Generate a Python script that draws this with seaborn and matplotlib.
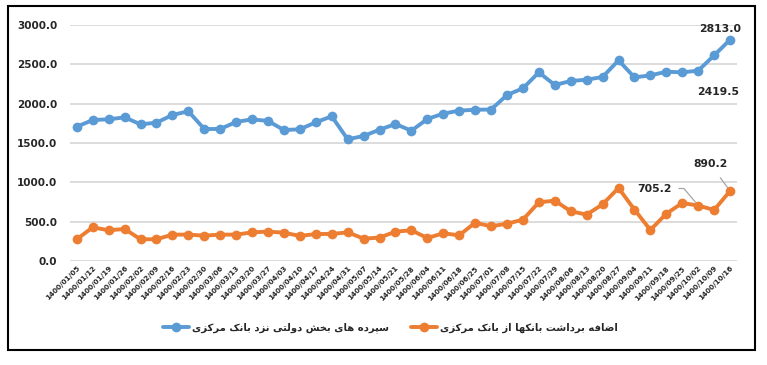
import matplotlib
matplotlib.use("Agg")
import matplotlib.pyplot as plt
import seaborn as sns
import pandas as pd
import numpy as np
from matplotlib.patches import Rectangle

dates = ["1400/01/05", "1400/01/12", "1400/01/19", "1400/01/26", "1400/02/02", "1400/02/09",
         "1400/02/16", "1400/02/23", "1400/02/30", "1400/03/06", "1400/03/13", "1400/03/20",
         "1400/03/27", "1400/04/03", "1400/04/10", "1400/04/17", "1400/04/24", "1400/04/31",
         "1400/05/07", "1400/05/14", "1400/05/21", "1400/05/28", "1400/06/04", "1400/06/11",
         "1400/06/18", "1400/06/25", "1400/07/01", "1400/07/08", "1400/07/15", "1400/07/22",
         "1400/07/29", "1400/08/06", "1400/08/13", "1400/08/20", "1400/08/27", "1400/09/04",
         "1400/09/11", "1400/09/18", "1400/09/25", "1400/10/02", "1400/10/09", "1400/10/16"]

gov_deposits = [1707, 1792, 1801, 1826, 1737, 1758, 1856, 1903, 1678, 1678, 1767, 1801,
                1780, 1665, 1674, 1763, 1839, 1547, 1589, 1669, 1741, 1656, 1805, 1873,
                1911, 1923, 1925, 2110, 2195, 2398, 2237, 2288, 2305, 2339, 2551, 2334,
                2360, 2406, 2398, 2419.5, 2614, 2813.0]

overdraft = [276, 428, 390, 407, 276, 276, 335, 335, 322, 335, 335, 364,
             373, 360, 318, 343, 343, 364, 284, 297, 373, 390, 292, 352,
             326, 487, 441, 474, 525, 746, 767, 632, 589, 721, 928, 652,
             394, 601, 737, 705.2, 648, 890.2]

name_gov = "سپرده های بخش دولتی نزد بانک مرکزی"
name_od = "اضافه برداشت بانکها از بانک مرکزی"

# --- minimal Arabic/Persian shaping (matplotlib has no complex text layout) ---
FORMS = {
    'ا': (0xFE8D, 0xFE8E, None, None), 'ب': (0xFE8F, 0xFE90, 0xFE91, 0xFE92),
    'پ': (0xFB56, 0xFB57, 0xFB58, 0xFB59), 'ت': (0xFE95, 0xFE96, 0xFE97, 0xFE98),
    'خ': (0xFEA5, 0xFEA6, 0xFEA7, 0xFEA8), 'د': (0xFEA9, 0xFEAA, None, None),
    'ر': (0xFEAD, 0xFEAE, None, None), 'ز': (0xFEAF, 0xFEB0, None, None),
    'س': (0xFEB1, 0xFEB2, 0xFEB3, 0xFEB4), 'ش': (0xFEB5, 0xFEB6, 0xFEB7, 0xFEB8),
    'ض': (0xFEBD, 0xFEBE, 0xFEBF, 0xFEC0), 'ف': (0xFED1, 0xFED2, 0xFED3, 0xFED4),
    'ک': (0xFB8E, 0xFB8F, 0xFB90, 0xFB91), 'ل': (0xFEDD, 0xFEDE, 0xFEDF, 0xFEE0),
    'م': (0xFEE1, 0xFEE2, 0xFEE3, 0xFEE4), 'ن': (0xFEE5, 0xFEE6, 0xFEE7, 0xFEE8),
    'ه': (0xFEE9, 0xFEEA, 0xFEEB, 0xFEEC), 'و': (0xFEED, 0xFEEE, None, None),
    'ی': (0xFBFC, 0xFBFD, 0xFBFE, 0xFBFF),
}


def shape(s):
    out = []
    for i, c in enumerate(s):
        if c not in FORMS:
            out.append(c)
            continue
        prev = s[i - 1] if i > 0 else None
        nxt = s[i + 1] if i + 1 < len(s) else None
        join_prev = prev in FORMS and FORMS[prev][2] is not None
        join_next = nxt in FORMS and FORMS[c][2] is not None
        iso, fin, ini, med = FORMS[c]
        if join_prev and join_next:
            cp = med
        elif join_prev:
            cp = fin
        elif join_next:
            cp = ini
        else:
            cp = iso
        out.append(chr(cp))
    return "".join(out)[::-1]


df = pd.DataFrame({
    "date": dates * 2,
    "value": gov_deposits + overdraft,
    "series": [shape(name_gov)] * len(dates) + [shape(name_od)] * len(dates),
})
df["pos"] = list(range(len(dates))) * 2

sns.set_theme(style="white")
plt.rcParams['font.family'] = ['DejaVu Sans']

fig = plt.figure(figsize=(7.67, 3.65), dpi=100)
ax = fig.add_axes([0.091, 0.285, 0.870, 0.6465])

blue = "#5B9BD5"
orange = "#ED7D31"

sns.lineplot(data=df, x="pos", y="value", hue="series",
             palette=[blue, orange], marker="o", markersize=7,
             markeredgewidth=0, linewidth=2.8, ax=ax)

ax.set_xlim(-0.44, len(dates) - 1 + 0.44)
ax.set_ylim(0, 3000)
ax.set_yticks(np.arange(0, 3001, 500))
ax.set_yticklabels([f"{v:.1f}" for v in np.arange(0, 3001, 500)],
                   fontsize=7.5, fontweight="bold", color="#262626")
ax.set_xticks(range(len(dates)))
ax.set_xticklabels(dates, rotation=45, ha="right", rotation_mode="anchor",
                   fontsize=5.2, fontweight="bold", color="#262626")
ax.tick_params(axis="x", length=0, pad=3)
ax.tick_params(axis="y", length=0, pad=9)
ax.grid(axis="y", color="#d9d9d9", linewidth=1.3)
ax.set_axisbelow(True)
for sp in ax.spines.values():
    sp.set_visible(False)
ax.set_xlabel("")
ax.set_ylabel("")

# annotations
lab_kw = dict(textcoords="offset pixels", fontsize=7.8, fontweight="bold",
              color="#262626", ha="center", va="center")
ax.annotate("2813.0", (41, gov_deposits[41]), xytext=(-10, 11), **lab_kw)
ax.annotate("2419.5", (39, gov_deposits[39]), xytext=(20, -21), **lab_kw)
ax.annotate("705.2", (39, overdraft[39]), xytext=(-44, 17),
            arrowprops=dict(arrowstyle="-", color="#a6a6a6", lw=0.9,
                            shrinkA=3, shrinkB=3,
                            connectionstyle="angle,angleA=0,angleB=130,rad=0"),
            **lab_kw)
ax.annotate("890.2", (41, overdraft[41]), xytext=(-20, 27),
            arrowprops=dict(arrowstyle="-", color="#a6a6a6", lw=0.9,
                            shrinkA=5, shrinkB=3),
            **lab_kw)

# legend
handles, labels = ax.get_legend_handles_labels()
leg = ax.legend(handles, labels, loc="center", ncol=2, frameon=False,
                handlelength=2.6, handletextpad=0.3, columnspacing=2.2,
                prop={"size": 7.2, "weight": "bold"})
leg.set_bbox_to_anchor((390 / 767, 1 - 328 / 365), transform=fig.transFigure)
for t in leg.get_texts():
    t.set_color("#262626")

# outer frame
fig.patches.append(Rectangle((8 / 767, 1 - 350 / 365), (755 - 8) / 767, (350 - 6) / 365,
                             transform=fig.transFigure, fill=False,
                             edgecolor="black", linewidth=1.5))

fig.savefig("out.png", dpi=100)
